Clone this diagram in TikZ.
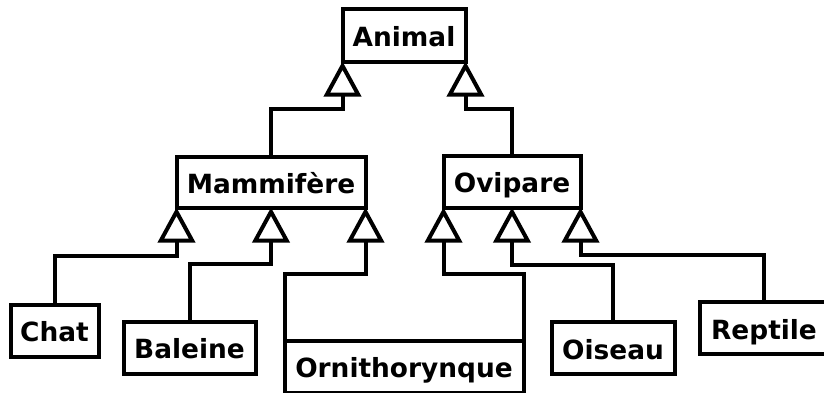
\documentclass[tikz,border=0pt]{standalone}
\usepackage{fontspec}
\setmainfont{DejaVu Sans}
\usetikzlibrary{arrows.meta}
\begin{document}
\begin{tikzpicture}[x=1pt,y=-1pt,
  cls/.style={draw, line width=4pt, fill=white, inner sep=0pt, outer sep=0pt,
    font=\fontsize{26.4pt}{30pt}\selectfont\bfseries, text height=23pt, text depth=0.5pt,
    minimum height=52pt},
  inh/.style={line width=4pt, line join=miter, -{Triangle[open, length=35pt, width=37pt]}}]
\clip (0,0) rectangle (824,392);
\node[cls, minimum width=123pt, minimum height=53pt] (animal) at (404,35) {Animal};
\node[cls, minimum width=189pt, minimum height=51pt] (mam) at (271,182) {Mammifère};
\node[cls, minimum width=137pt] (ovi) at (512,181.5) {Ovipare};
\node[cls, minimum width=88pt] (chat) at (54.5,330.5) {Chat};
\node[cls, minimum width=132pt] (baleine) at (189.5,347.5) {Baleine};
\node[cls, minimum width=239pt] (orni) at (404,366.5) {Ornithorynque};
\node[cls, minimum width=123pt] (oiseau) at (613,348.3) {Oiseau};
\node[cls, minimum width=129pt] (reptile) at (764,328.2) {Reptile};
\draw[inh] (mam.north) -- ++(0,-48) -| (animal.south west);
\draw[inh] (ovi.north) -- ++(0,-47) -| (animal.south east);
\draw[inh] (chat.north) -- ++(0,-49) -| (mam.south west);
\draw[inh] (baleine.north) -- ++(0,-57.3) -| (mam.south);
\draw[inh] (orni.north west) -- ++(0,-67) -| (mam.south east);
\draw[inh] (orni.north east) -- ++(0,-67) -| (ovi.south west);
\draw[inh] (oiseau.north) -- ++(0,-57.7) -| (ovi.south);
\draw[inh] (reptile.north) -- ++(0,-47.4) -| (ovi.south east);
\end{tikzpicture}
\end{document}
